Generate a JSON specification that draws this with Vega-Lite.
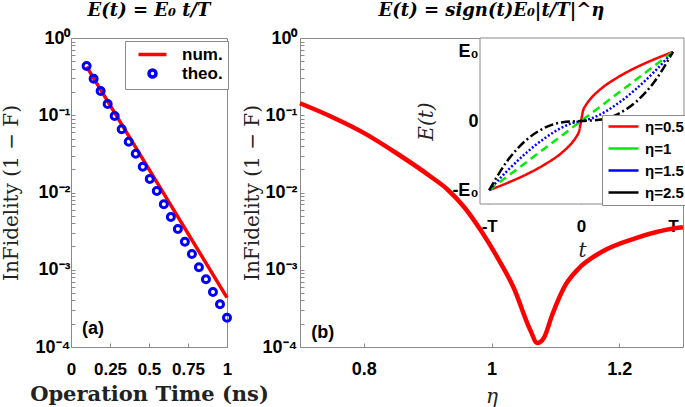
{
  "$schema": "https://vega.github.io/schema/vega-lite/v6.json",
  "padding": {"left": 0, "top": 1, "right": 1, "bottom": 0},
  "background": "white",
  "config": {
    "font": "Liberation Sans",
    "view": {"stroke": "#8a8a8a", "strokeWidth": 1},
    "axis": {
      "domain": false, "grid": false,
      "tickColor": "#8a8a8a", "tickSize": -4,
      "labelFont": "Liberation Sans", "labelFontWeight": "bold", "labelFontSize": 18, "labelColor": "#000",
      "labelOverlap": false, "labelFlush": false, "labelBound": false,
      "titleFont": "DejaVu Serif", "titleFontWeight": "normal", "titleFontSize": 20, "titleColor": "#222"
    },
    "title": {"font": "DejaVu Serif", "fontSize": 18, "fontWeight": "bold", "fontStyle": "italic", "color": "#000", "offset": 9}
  },
  "datasets": {
    "theo": [
      {"time": 0.1, "infid": 0.434, "series": "theo."},
      {"time": 0.145, "infid": 0.297, "series": "theo."},
      {"time": 0.19, "infid": 0.206, "series": "theo."},
      {"time": 0.235, "infid": 0.14, "series": "theo."},
      {"time": 0.28, "infid": 0.0977, "series": "theo."},
      {"time": 0.325, "infid": 0.0658, "series": "theo."},
      {"time": 0.37, "infid": 0.0455, "series": "theo."},
      {"time": 0.415, "infid": 0.0318, "series": "theo."},
      {"time": 0.46, "infid": 0.0216, "series": "theo."},
      {"time": 0.505, "infid": 0.015, "series": "theo."},
      {"time": 0.55, "infid": 0.01045, "series": "theo."},
      {"time": 0.595, "infid": 0.00703, "series": "theo."},
      {"time": 0.64, "infid": 0.00482, "series": "theo."},
      {"time": 0.685, "infid": 0.00337, "series": "theo."},
      {"time": 0.73, "infid": 0.00231, "series": "theo."},
      {"time": 0.775, "infid": 0.0016, "series": "theo."},
      {"time": 0.82, "infid": 0.00108, "series": "theo."},
      {"time": 0.865, "infid": 0.000752, "series": "theo."},
      {"time": 0.91, "infid": 0.000515, "series": "theo."},
      {"time": 0.955, "infid": 0.000357, "series": "theo."},
      {"time": 1.0, "infid": 0.000239, "series": "theo."}
    ],
    "num": [
      {"time": 0.1, "infid": 0.427},
      {"time": 0.55, "infid": 0.0136},
      {"time": 1.0, "infid": 0.000435}
    ],
    "labA": [{"time": 0.07, "infid": 0.000171, "label": "(a)"}],
    "curve": [
      {"eta": 0.7, "infid": 0.1429},
      {"eta": 0.7492, "infid": 0.0957},
      {"eta": 0.8012, "infid": 0.0583},
      {"eta": 0.8531, "infid": 0.0315},
      {"eta": 0.905, "infid": 0.016},
      {"eta": 0.931, "infid": 0.01094},
      {"eta": 0.957, "infid": 0.00649},
      {"eta": 0.9829, "infid": 0.00327},
      {"eta": 1.0089, "infid": 0.00146},
      {"eta": 1.0349, "infid": 0.000581},
      {"eta": 1.0607, "infid": 0.000166},
      {"eta": 1.0717, "infid": 0.0001127},
      {"eta": 1.082, "infid": 0.000131},
      {"eta": 1.095, "infid": 0.00026},
      {"eta": 1.1159, "infid": 0.000635},
      {"eta": 1.1366, "infid": 0.00104},
      {"eta": 1.1729, "infid": 0.00171},
      {"eta": 1.2249, "infid": 0.00255},
      {"eta": 1.2872, "infid": 0.00344},
      {"eta": 1.3, "infid": 0.00355}
    ],
    "labB": [{"eta": 0.7176, "infid": 0.00015, "label": "(b)"}],
    "frame": [{"t": -1.1, "t2": 1.12, "E": -1.2, "E2": 1.2}],
    "shapes": [
      {"eta": "η=0.5", "t": -1, "E": -1}, {"eta": "η=0.5", "t": -0.8, "E": -0.894}, {"eta": "η=0.5", "t": -0.6, "E": -0.775}, {"eta": "η=0.5", "t": -0.4, "E": -0.632}, {"eta": "η=0.5", "t": -0.2, "E": -0.447}, {"eta": "η=0.5", "t": -0.1, "E": -0.316}, {"eta": "η=0.5", "t": -0.05, "E": -0.224}, {"eta": "η=0.5", "t": -0.02, "E": -0.141}, {"eta": "η=0.5", "t": 0, "E": 0}, {"eta": "η=0.5", "t": 0.02, "E": 0.141}, {"eta": "η=0.5", "t": 0.05, "E": 0.224}, {"eta": "η=0.5", "t": 0.1, "E": 0.316}, {"eta": "η=0.5", "t": 0.2, "E": 0.447}, {"eta": "η=0.5", "t": 0.4, "E": 0.632}, {"eta": "η=0.5", "t": 0.6, "E": 0.775}, {"eta": "η=0.5", "t": 0.8, "E": 0.894}, {"eta": "η=0.5", "t": 1, "E": 1},
      {"eta": "η=1", "t": -1, "E": -1}, {"eta": "η=1", "t": -0.5, "E": -0.5}, {"eta": "η=1", "t": 0, "E": 0}, {"eta": "η=1", "t": 0.5, "E": 0.5}, {"eta": "η=1", "t": 1, "E": 1},
      {"eta": "η=1.5", "t": -1, "E": -1}, {"eta": "η=1.5", "t": -0.8, "E": -0.716}, {"eta": "η=1.5", "t": -0.6, "E": -0.465}, {"eta": "η=1.5", "t": -0.4, "E": -0.253}, {"eta": "η=1.5", "t": -0.2, "E": -0.0894}, {"eta": "η=1.5", "t": -0.1, "E": -0.0316}, {"eta": "η=1.5", "t": 0, "E": 0}, {"eta": "η=1.5", "t": 0.1, "E": 0.0316}, {"eta": "η=1.5", "t": 0.2, "E": 0.0894}, {"eta": "η=1.5", "t": 0.4, "E": 0.253}, {"eta": "η=1.5", "t": 0.6, "E": 0.465}, {"eta": "η=1.5", "t": 0.8, "E": 0.716}, {"eta": "η=1.5", "t": 1, "E": 1},
      {"eta": "η=2.5", "t": -1, "E": -1}, {"eta": "η=2.5", "t": -0.8, "E": -0.572}, {"eta": "η=2.5", "t": -0.6, "E": -0.279}, {"eta": "η=2.5", "t": -0.4, "E": -0.101}, {"eta": "η=2.5", "t": -0.2, "E": -0.0179}, {"eta": "η=2.5", "t": 0, "E": 0}, {"eta": "η=2.5", "t": 0.2, "E": 0.0179}, {"eta": "η=2.5", "t": 0.4, "E": 0.101}, {"eta": "η=2.5", "t": 0.6, "E": 0.279}, {"eta": "η=2.5", "t": 0.8, "E": 0.572}, {"eta": "η=2.5", "t": 1, "E": 1}
    ]
  },
  "bounds": "flush",
  "spacing": 73,
  "hconcat": [
    {
      "width": 156, "height": 309,
      "title": {"text": "E(t) = E₀ t/T"},
      "encoding": {
        "x": {"field": "time", "type": "quantitative", "scale": {"domain": [0, 1], "nice": false},
              "axis": {"title": "Operation Time (ns)", "values": [0, 0.25, 0.5, 0.75, 1], "tickCount": 5, "labelExpr": "datum.value == 0 ? '0' : (datum.value == 1 ? '1' : format(datum.value, '.2~f'))", "labelOverlap": {"expr": "false"}, "labelFlush": false, "labelSeparation": 0, "labelFontSize": 17, "labelPadding": 18, "titleFontWeight": "bold", "titleFontSize": 21, "titlePadding": 6}},
        "y": {"field": "infid", "type": "quantitative", "scale": {"type": "log", "domain": [0.0001, 1], "nice": false},
              "axis": {"title": "InFidelity (1 − F)", "titlePadding": 14, "labelPadding": 5, "labelOverlap": false,
                       "values": [0.0001,0.0002,0.0003,0.0004,0.0005,0.0006,0.0007,0.0008,0.0009,0.001,0.002,0.003,0.004,0.005,0.006,0.007,0.008,0.009,0.01,0.02,0.03,0.04,0.05,0.06,0.07,0.08,0.09,0.1,0.2,0.3,0.4,0.5,0.6,0.7,0.8,0.9,1],
                       "labelExpr": "abs(log(datum.value)/LN10 - round(log(datum.value)/LN10)) < 0.001 ? ['10⁰','10⁻¹','10⁻²','10⁻³','10⁻⁴'][-round(log(datum.value)/LN10)] : ''"}}
      },
      "layer": [
        {
          "data": {"name": "num"},
          "mark": {"type": "line", "color": "#ff0000", "strokeWidth": 3.5}
        },
        {
          "data": {"name": "theo"},
          "mark": {"type": "point", "filled": false, "strokeWidth": 3, "size": 49, "opacity": 1, "clip": false},
          "encoding": {
            "color": {"field": "series", "type": "nominal", "scale": {"domain": ["num.", "theo."], "range": ["#ff0000", "#0000ff"]},
                      "legend": {"title": null, "orient": "none", "legendX": 54, "legendY": 3, "labelFontSize": 17, "labelFontWeight": "bold", "labelColor": "#000", "symbolStrokeWidth": 3.5, "symbolSize": 49, "symbolOffset": 14, "rowPadding": 0, "padding": 5, "strokeColor": "#8a8a8a", "fillColor": "white", "labelOffset": 21}},
            "shape": {"field": "series", "type": "nominal", "scale": {"domain": ["num.", "theo."], "range": ["M-4,0H4", "circle"]}}
          }
        },
        {
          "data": {"name": "labA"},
          "mark": {"type": "text", "align": "left", "baseline": "middle", "font": "Liberation Sans", "fontWeight": "bold", "fontSize": 18, "color": "#000"},
          "encoding": {
            "text": {"field": "label"}
          }
        }
      ]
    },
    {
      "width": 383, "height": 309,
      "title": {"text": "E(t) = sign(t)E₀|t/T|^η"},
      "layer": [
        {
          "layer": [
            {
              "data": {"name": "curve"},
              "mark": {"type": "line", "color": "#ff0000", "strokeWidth": 4.5, "interpolate": "monotone"},
              "encoding": {
                "x": {"field": "eta", "type": "quantitative", "scale": {"domain": [0.7, 1.3], "nice": false},
                      "axis": {"title": "η", "titleFontStyle": "italic", "values": [0.8, 1, 1.2], "format": "~g", "labelPadding": 17, "titlePadding": 8}},
                "y": {"field": "infid", "type": "quantitative", "scale": {"type": "log", "domain": [0.0001, 1], "nice": false},
                      "axis": {"title": "InFidelity (1 − F)", "titlePadding": 0, "labelPadding": 7, "labelOverlap": false,
                               "values": [0.0001,0.0002,0.0003,0.0004,0.0005,0.0006,0.0007,0.0008,0.0009,0.001,0.002,0.003,0.004,0.005,0.006,0.007,0.008,0.009,0.01,0.02,0.03,0.04,0.05,0.06,0.07,0.08,0.09,0.1,0.2,0.3,0.4,0.5,0.6,0.7,0.8,0.9,1],
                               "labelExpr": "abs(log(datum.value)/LN10 - round(log(datum.value)/LN10)) < 0.001 ? ['10⁰','10⁻¹','10⁻²','10⁻³','10⁻⁴'][-round(log(datum.value)/LN10)] : ''"}}
              }
            },
            {
              "data": {"name": "labB"},
              "mark": {"type": "text", "align": "left", "baseline": "middle", "font": "Liberation Sans", "fontWeight": "bold", "fontSize": 18, "color": "#000"},
              "encoding": {
                "x": {"field": "eta", "type": "quantitative"},
                "y": {"field": "infid", "type": "quantitative"},
                "text": {"field": "label"}
              }
            }
          ]
        },
        {
          "layer": [
            {
              "data": {"name": "frame"},
              "mark": {"type": "rect", "fill": "white", "stroke": "#8a8a8a", "strokeWidth": 1},
              "encoding": {
                "x": {"field": "t", "type": "quantitative", "scale": {"domain": [-1.1, 1.12], "range": [180, 384], "nice": false, "zero": false},
                      "axis": {"orient": "bottom", "offset": -143, "title": "t", "titleFontStyle": "italic", "titlePadding": 6, "values": [-1, 0, 1], "labelFontSize": 17, "labelPadding": 18, "labelOverlap": false,
                               "labelExpr": "datum.value < 0 ? '-T' : (datum.value > 0 ? 'T' : '0')"}},
                "x2": {"field": "t2"},
                "y": {"field": "E", "type": "quantitative", "scale": {"domain": [-1.2, 1.2], "range": [166, 0], "nice": false, "zero": false},
                      "axis": {"orient": "left", "offset": -180, "title": "E(t)", "titleFontStyle": "italic", "titlePadding": 15, "values": [-1, 0, 1], "labelFontSize": 18, "labelPadding": 6, "labelOverlap": false,
                               "labelExpr": "datum.value < 0 ? '-E₀' : (datum.value > 0 ? 'E₀' : '0')"}},
                "y2": {"field": "E2"}
              }
            },
            {
              "data": {"name": "shapes"},
              "mark": {"type": "line", "strokeWidth": 2.5, "interpolate": "monotone"},
              "encoding": {
                "x": {"field": "t", "type": "quantitative"},
                "y": {"field": "E", "type": "quantitative"},
                "color": {"field": "eta", "type": "nominal", "scale": {"domain": ["η=0.5", "η=1", "η=1.5", "η=2.5"], "range": ["#ff0000", "#00ee00", "#0000ff", "#000000"]},
                          "legend": {"title": null, "orient": "none", "legendX": 302, "legendY": 77, "symbolType": "M-2.5,0H2.5", "symbolSize": 144, "symbolOffset": 10, "symbolStrokeWidth": 2.5, "labelFontSize": 15, "labelFontWeight": "bold", "labelColor": "#000", "rowPadding": 6, "padding": 4, "strokeColor": "#8a8a8a", "fillColor": "white", "labelOffset": 14}},
                "strokeDash": {"field": "eta", "type": "nominal", "scale": {"domain": ["η=0.5", "η=1", "η=1.5", "η=2.5"], "range": [[1, 0], [8, 5], [2, 2], [9, 3, 2, 3]]}}
              }
            }
          ]
        }
      ],
      "resolve": {"scale": {"x": "independent", "y": "independent", "color": "independent"}, "axis": {"x": "independent", "y": "independent"}}
    }
  ]
}
